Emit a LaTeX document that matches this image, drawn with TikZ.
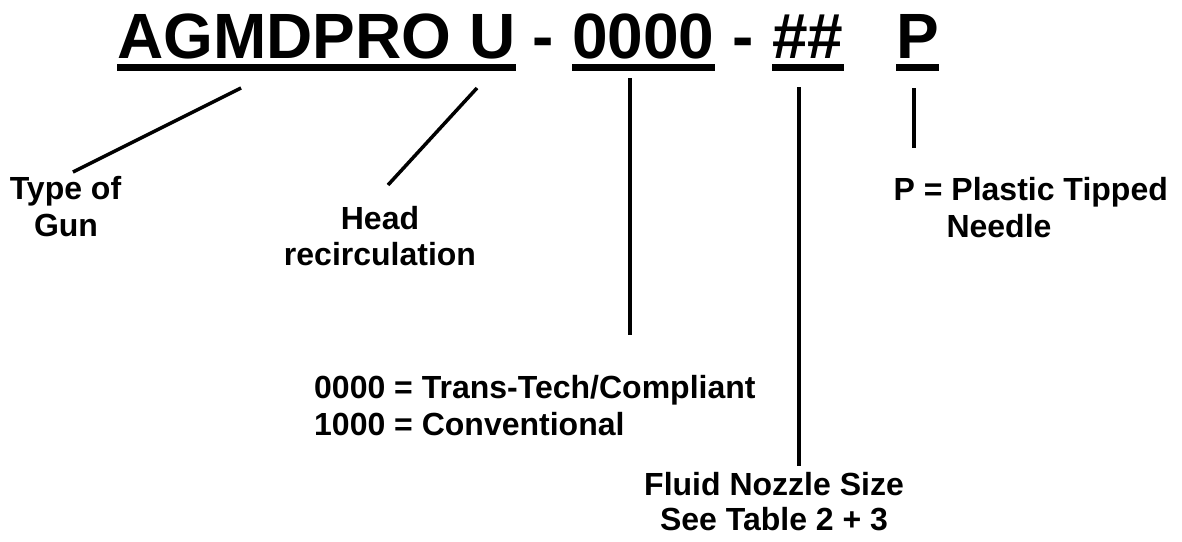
\documentclass[tikz,border=0pt]{standalone}
\usepackage{fontspec}
\setmainfont{Liberation Sans}
\begin{document}
\begin{tikzpicture}[x=1pt,y=-1pt,
  ttl/.style={font=\fontsize{64}{74}\selectfont\bfseries, inner sep=0pt, anchor=base west},
  lbl/.style={font=\fontsize{32}{38}\selectfont\bfseries, inner sep=0pt},
  conn/.style={line width=3.5pt},
  uline/.style={line width=6.5pt}]
\useasboundingbox (0,0) rectangle (1182,541);
% title parts
\node[ttl] (t1) at (117,58) {AGMDPRO U};
\node[ttl] (h1) at (532,58) {-};
\node[ttl] (t2) at (572,58) {0000};
\node[ttl] (h2) at (732,58) {-};
\node[ttl] (t3) at (772,58) {\#\#};
\node[ttl] (t4) at (896,58) {P};
% underlines
\foreach \n in {t1,t2,t3,t4}
  \draw[uline] ([yshift=-9.5pt]\n.base west) -- ([yshift=-9.5pt]\n.base east);
% labels
\node[lbl, anchor=base] (g1) at (65.5,199) {Type of};
\node[lbl, anchor=base] (g2) at (66,236) {Gun};
\node[lbl, anchor=base] (r1) at (380,229) {Head};
\node[lbl, anchor=base] (r2) at (380,265) {recirculation};
\node[lbl, anchor=base west] (c1) at (314,398) {0000 = Trans-Tech/Compliant};
\node[lbl, anchor=base west] (c2) at (314,435) {1000 = Conventional};
\node[lbl, anchor=base] (f1) at (774,495) {Fluid Nozzle Size};
\node[lbl, anchor=base] (f2) at (774,530) {See Table 2 + 3};
\node[lbl, anchor=base east] (p1) at (1168,200) {P = Plastic Tipped};
\node[lbl, anchor=base] (p2) at (999,237) {Needle};
% connector end points
\coordinate (a1) at (241,88);  \coordinate (a2) at (73,172);
\coordinate (b1) at (477,88);  \coordinate (b2) at (388,185);
\coordinate (c3) at (630,78);  \coordinate (c4) at (630,335);
\coordinate (d1) at (799,87);  \coordinate (d2) at (799,466);
\coordinate (e1) at (914,88);  \coordinate (e2) at (914,148);
\draw[conn] (a1) -- (a2);
\draw[conn] (b1) -- (b2);
\draw[conn] (c3) -- (c4);
\draw[conn] (d1) -- (d2);
\draw[conn] (e1) -- (e2);
\end{tikzpicture}
\end{document}
